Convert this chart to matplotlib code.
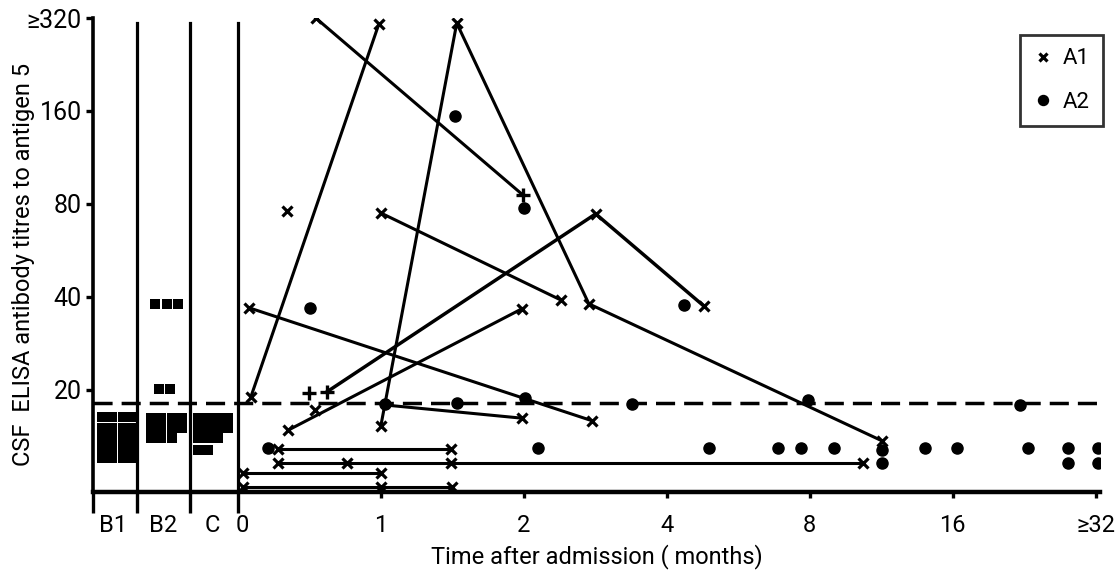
import matplotlib
matplotlib.use('Agg')
import matplotlib.pyplot as plt

plt.rcParams['font.family'] = ['Roboto', 'DejaVu Sans']

# x positions: 0 = admission, one step per doubling of time (0,1,2,4,8,16,>=32 months)
# negative positions are the control groups B1, B2, C
xtick_pos = [0, 1, 2, 3, 4, 5, 6]
xtick_labels = ['0', '1', '2', '4', '8', '16', '≥32']
group_labels = ['B1', 'B2', 'C']
group_label_pos = [-0.874, -0.524, -0.182]
group_edges = [-1.014, -0.706, -0.336, 0]
ytick_vals = [20, 40, 80, 160, 320]
ytick_labels = ['20', '40', '80', '160', '≥320']
cutoff = 18.1

# control groups (squares)
b1_x = [-0.951, -0.878, -0.804, -0.738] * 5
b1_y = [16.4] * 4 + [15.1] * 4 + [14.0] * 4 + [13.0] * 4 + [12.0] * 4
b2_x = [-0.580, -0.497, -0.420, -0.552, -0.476,
        -0.608, -0.535, -0.462, -0.392,
        -0.608, -0.535, -0.462, -0.392,
        -0.608, -0.535, -0.462]
b2_y = [38.0, 38.0, 38.0, 20.2, 20.2,
        16.2, 16.2, 16.2, 16.2,
        15.1, 15.1, 15.1, 15.1,
        14.0, 14.0, 14.0]
c_x = [-0.280, -0.210, -0.140, -0.070,
       -0.280, -0.210, -0.140, -0.070,
       -0.280, -0.210, -0.140,
       -0.280, -0.210]
c_y = [16.2, 16.2, 16.2, 16.2,
       15.1, 15.1, 15.1, 15.1,
       14.0, 14.0, 14.0,
       12.8, 12.8]

# A1 patients followed over time (x markers joined by lines)
a1_series = [
    ([0.091, 0.986], [19.0, 306]),
    ([1.0, 1.531, 2.455, 4.503], [15.3, 308, 38.0, 13.7]),
    ([0.35, 1.986], [14.8, 36.6]),
    ([0.077, 2.476], [36.9, 15.9]),
    ([1.0, 2.259], [74.8, 39.1]),
    ([0.28, 1.49], [12.9, 12.9]),
    ([0.28, 0.762, 1.49, 4.371], [11.6, 11.6, 11.6, 11.6]),
    ([0.035, 1.0], [10.8, 10.8]),
    ([0.035, 1.0, 1.497], [9.7, 9.7, 9.7]),
]
# series starting or ending in a '+' sample
plus_line1_x = [0.545, 1.993]
plus_line1_y = [320, 85.6]
plus_line2_x = [0.622, 2.503, 3.259]
plus_line2_y = [19.7, 74.3, 37.4]
open_line_x = [1.014, 1.986]
open_line_y = [17.9, 16.2]

a1_single_x = [0.343, 0.538]
a1_single_y = [75.9, 17.2]
plus_x = [0.497, 0.622, 1.993]
plus_y = [19.6, 19.7, 85.6]

# A2 samples (dots)
a2_x = [0.503, 1.517, 2.0, 3.119, 1.531, 2.007, 2.755, 3.986, 5.469, 1.03,
        0.21, 2.098, 3.294, 3.776, 3.937, 4.168, 4.503, 4.804, 5.028, 5.524,
        5.804, 6.014, 4.503, 5.804, 6.014]
a2_y = [36.9, 154, 77.6, 37.7, 18.1, 18.8, 18.0, 18.5, 17.9, 18.0,
        13.0, 13.0, 13.0, 13.0, 13.0, 13.0, 12.8, 13.0, 13.0, 13.0,
        13.0, 13.0, 11.6, 11.6, 11.6]

fig = plt.figure(figsize=(11.2, 5.76), dpi=100)
ax = fig.add_axes([0.083, 0.1458, 0.899, 0.8229])
ax.set_yscale('log', base=2)
ax.set_xlim(-1.014, 6.03)
ax.set_ylim(9.34, 320)

for x in group_edges[1:]:
    ax.axvline(x, ymax=0.99, color='k', lw=2.3)
ax.axhline(cutoff, color='k', lw=2.5, dashes=(5.5, 2.6))

sq = dict(marker='s', ms=7.0, mew=0, color='k', ls='none')
ax.plot(b1_x, b1_y, **sq)
ax.plot(b2_x, b2_y, **sq)
ax.plot(c_x, c_y, **sq)

xm = dict(marker='x', ms=7, mew=2.3, color='k')
for xs, ys in a1_series:
    ax.plot(xs, ys, lw=2.2, **xm)
ax.plot(plus_line1_x, plus_line1_y, color='k', lw=2.2)
ax.plot(plus_line1_x[:1], plus_line1_y[:1], ls='none', **xm)
ax.plot(plus_line2_x, plus_line2_y, color='k', lw=2.5)
ax.plot(plus_line2_x[1:], plus_line2_y[1:], ls='none', **xm)
ax.plot(open_line_x, open_line_y, color='k', lw=2.2)
ax.plot(open_line_x[1:], open_line_y[1:], ls='none', **xm)
ax.plot(a1_single_x, a1_single_y, ls='none', label='A1', **xm)
ax.plot(plus_x, plus_y, 'k+', ms=10, mew=2.4)
ax.plot(a2_x, a2_y, 'ko', ms=8, ls='none', label='A2')

for s in ['top', 'right']:
    ax.spines[s].set_visible(False)
ax.spines['left'].set_linewidth(2.6)
ax.spines['bottom'].set_linewidth(3.2)

ax.set_yticks(ytick_vals)
ax.set_yticklabels(ytick_labels, fontsize=18)
ax.yaxis.set_minor_locator(matplotlib.ticker.NullLocator())
ax.tick_params(axis='y', length=5, width=2.4, pad=3)

ax.set_xticks(group_label_pos + [0.03] + xtick_pos[1:])
ax.set_xticklabels(group_labels + xtick_labels, fontsize=17)
ax.set_xticks(group_edges, minor=True)
ax.tick_params(axis='x', which='major', length=4, width=2.4, pad=12)
ax.tick_params(axis='x', which='minor', length=15, width=2.4)
for t in ax.xaxis.get_major_ticks()[:4]:
    t.tick1line.set_markersize(0)

ax.set_xlabel('Time after admission ( months)', fontsize=17, labelpad=5)
ax.set_ylabel('CSF  ELISA antibody titres to antigen 5', fontsize=17)
ax.yaxis.set_label_coords(-0.058, 0.48)

leg = ax.legend(loc='upper left', bbox_to_anchor=(0.911, 0.939),
                bbox_transform=fig.transFigure, borderaxespad=0,
                fontsize=16, frameon=True, fancybox=False, edgecolor='k',
                handlelength=0.8, handletextpad=0.5, labelspacing=1.0,
                borderpad=0.6, markerscale=0.9)
leg.get_frame().set_linewidth(2)

fig.savefig('out.png', dpi=100)
